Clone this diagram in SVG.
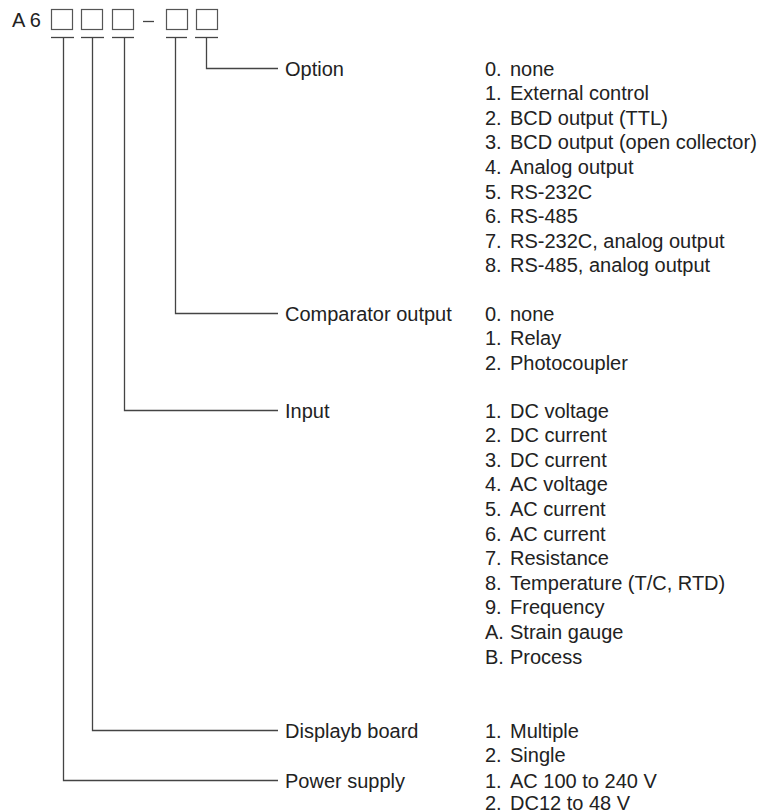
<svg xmlns="http://www.w3.org/2000/svg" width="781" height="811" viewBox="0 0 781 811">
<style>
text{font-family:"Liberation Sans",Arial,sans-serif;font-size:20px;fill:#222}
.box{fill:#fff;stroke:#555;stroke-width:1.2}
.ln{fill:none;stroke:#444;stroke-width:1.3}
</style>
<rect width="781" height="811" fill="#fff"/>
<g id="code">
<text x="12" y="27" font-size="21px">A 6</text>
<rect class="box" x="51.5" y="9.5" width="21" height="20"/>
<rect class="box" x="81.5" y="9.5" width="21" height="20"/>
<rect class="box" x="112.5" y="9.5" width="21" height="20"/>
<line class="ln" x1="143" y1="21.5" x2="154" y2="21.5"/>
<rect class="box" x="166.5" y="9.5" width="21" height="20"/>
<rect class="box" x="196.5" y="9.5" width="21" height="20"/>
<g class="ln" stroke="#888">
<line x1="51" y1="37.5" x2="74" y2="37.5"/>
<line x1="81" y1="37.5" x2="104" y2="37.5"/>
<line x1="112" y1="37.5" x2="134" y2="37.5"/>
<line x1="166" y1="37.5" x2="187" y2="37.5"/>
<line x1="195" y1="37.5" x2="218" y2="37.5"/>
</g>
</g>
<g id="connectors" class="ln">
<polyline points="206.5,38 206.5,68.5 278,68.5"/>
<polyline points="175.5,38 175.5,313.5 278,313.5"/>
<polyline points="124.5,38 124.5,410.5 278,410.5"/>
<polyline points="92.5,38 92.5,730.5 278,730.5"/>
<polyline points="63.5,38 63.5,780.5 278,780.5"/>
</g>
<g id="option">
<text x="285" y="75.5">Option</text>
<text y="75.5"><tspan x="485">0.</tspan><tspan x="510">none</tspan></text>
<text y="100.1"><tspan x="485">1.</tspan><tspan x="510">External control</tspan></text>
<text y="124.7"><tspan x="485">2.</tspan><tspan x="510">BCD output (TTL)</tspan></text>
<text y="149.3"><tspan x="485">3.</tspan><tspan x="510">BCD output (open collector)</tspan></text>
<text y="173.9"><tspan x="485">4.</tspan><tspan x="510">Analog output</tspan></text>
<text y="198.5"><tspan x="485">5.</tspan><tspan x="510">RS-232C</tspan></text>
<text y="223.1"><tspan x="485">6.</tspan><tspan x="510">RS-485</tspan></text>
<text y="247.7"><tspan x="485">7.</tspan><tspan x="510">RS-232C, analog output</tspan></text>
<text y="272.3"><tspan x="485">8.</tspan><tspan x="510">RS-485, analog output</tspan></text>
</g>
<g id="comparator">
<text x="285" y="320.5">Comparator output</text>
<text y="320.5"><tspan x="485">0.</tspan><tspan x="510">none</tspan></text>
<text y="345.1"><tspan x="485">1.</tspan><tspan x="510">Relay</tspan></text>
<text y="369.7"><tspan x="485">2.</tspan><tspan x="510">Photocoupler</tspan></text>
</g>
<g id="input">
<text x="285" y="417.5">Input</text>
<text y="417.5"><tspan x="485">1.</tspan><tspan x="510">DC voltage</tspan></text>
<text y="442.1"><tspan x="485">2.</tspan><tspan x="510">DC current</tspan></text>
<text y="466.7"><tspan x="485">3.</tspan><tspan x="510">DC current</tspan></text>
<text y="491.3"><tspan x="485">4.</tspan><tspan x="510">AC voltage</tspan></text>
<text y="515.9"><tspan x="485">5.</tspan><tspan x="510">AC current</tspan></text>
<text y="540.5"><tspan x="485">6.</tspan><tspan x="510">AC current</tspan></text>
<text y="565.1"><tspan x="485">7.</tspan><tspan x="510">Resistance</tspan></text>
<text y="589.7"><tspan x="485">8.</tspan><tspan x="510">Temperature (T/C, RTD)</tspan></text>
<text y="614.3"><tspan x="485">9.</tspan><tspan x="510">Frequency</tspan></text>
<text y="638.9"><tspan x="485">A.</tspan><tspan x="510">Strain gauge</tspan></text>
<text y="663.5"><tspan x="485">B.</tspan><tspan x="510">Process</tspan></text>
</g>
<g id="display">
<text x="285" y="737.5">Displayb board</text>
<text y="737.5"><tspan x="485">1.</tspan><tspan x="510">Multiple</tspan></text>
<text y="762.1"><tspan x="485">2.</tspan><tspan x="510">Single</tspan></text>
</g>
<g id="power">
<text x="285" y="787.5">Power supply</text>
<text y="787.5"><tspan x="485">1.</tspan><tspan x="510">AC 100 to 240 V</tspan></text>
<text y="810"><tspan x="485">2.</tspan><tspan x="510">DC12 to 48 V</tspan></text>
</g>
</svg>
